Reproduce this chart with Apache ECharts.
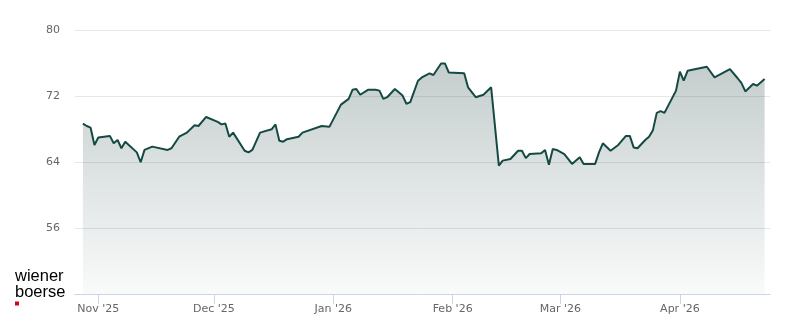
<!DOCTYPE html>
<html>
<head>
<meta charset="utf-8">
<script src="https://cdn.jsdelivr.net/npm/echarts@6/dist/echarts.min.js"></script>
<style>html,body{margin:0;padding:0;background:#fff}#c{width:800px;height:324px}</style>
</head>
<body>
<div id="c"></div>
<script>
const dates = [
'2025-10-28','2025-10-29','2025-10-30','2025-10-31','2025-11-01','2025-11-04','2025-11-05','2025-11-06','2025-11-07','2025-11-08',
'2025-11-11','2025-11-12','2025-11-13','2025-11-15','2025-11-19','2025-11-20','2025-11-22','2025-11-24','2025-11-26','2025-11-27',
'2025-11-29','2025-12-02','2025-12-03','2025-12-04','2025-12-05','2025-12-06','2025-12-09','2025-12-10','2025-12-11','2025-12-13',
'2025-12-16','2025-12-17','2025-12-18','2025-12-19','2025-12-20','2025-12-23','2025-12-24','2025-12-29','2025-12-31','2026-01-03',
'2026-01-05','2026-01-06','2026-01-07','2026-01-08','2026-01-10','2026-01-12','2026-01-13','2026-01-14','2026-01-15','2026-01-17',
'2026-01-19','2026-01-20','2026-01-21','2026-01-23','2026-01-24','2026-01-26','2026-01-27','2026-01-29','2026-01-30','2026-01-31',
'2026-02-04','2026-02-05','2026-02-07','2026-02-09','2026-02-11','2026-02-13','2026-02-14','2026-02-16','2026-02-18','2026-02-19',
'2026-02-20','2026-02-21','2026-02-24','2026-02-25','2026-02-26','2026-02-27','2026-02-28','2026-03-02','2026-03-04','2026-03-06',
'2026-03-07','2026-03-10','2026-03-11','2026-03-12','2026-03-14','2026-03-16','2026-03-18','2026-03-19','2026-03-20','2026-03-21',
'2026-03-23','2026-03-24','2026-03-25','2026-03-26','2026-03-27','2026-03-28','2026-03-31','2026-04-01','2026-04-02','2026-04-03',
'2026-04-08','2026-04-10','2026-04-14','2026-04-16','2026-04-17','2026-04-18','2026-04-20','2026-04-21','2026-04-23'
];
const prices = [
68.7,68.4,68.2,66.1,67.0,67.2,66.3,66.7,65.7,66.5,
65.2,64.0,65.5,65.9,65.5,65.7,67.1,67.6,68.5,68.4,
69.5,68.9,68.6,68.7,67.1,67.6,65.4,65.2,65.5,67.6,
68.0,68.6,66.6,66.5,66.8,67.1,67.6,68.4,68.3,71.0,
71.7,72.8,72.9,72.2,72.8,72.8,72.7,71.7,71.9,72.9,
72.1,71.1,71.3,73.9,74.3,74.8,74.6,76.0,76.0,74.9,
74.8,73.1,71.9,72.2,73.1,63.6,64.2,64.4,65.4,65.4,
64.5,65.0,65.1,65.5,63.7,65.6,65.5,65.0,63.8,64.6,
63.8,63.8,65.2,66.3,65.4,66.1,67.2,67.2,65.8,65.7,
66.7,67.1,67.9,70.0,70.2,70.0,72.7,75.0,73.9,75.1,
75.6,74.3,75.3,74.2,73.6,72.6,73.5,73.3,74.1
];
const monthTicks = ['2025-11-01','2025-12-01','2026-01-01','2026-02-01','2026-03-01','2026-04-01'];
const monthNames = ['Jan','Feb','Mar','Apr','May','Jun','Jul','Aug','Sep','Oct','Nov','Dec'];
const yTicks = [48,56,64,72,80];

function toTs(s){ const p = s.split('-').map(Number); return Date.UTC(p[0], p[1]-1, p[2]); }
const DAY = 86400000;
const base = toTs('2025-11-01');
const tickTs = monthTicks.map(toTs);
const seriesData = dates.map((d,i)=>[toTs(d), prices[i]]);

const chart = echarts.init(document.getElementById('c'), null, {renderer:'canvas'});
chart.setOption({
  animation:false,
  backgroundColor:'#ffffff',
  grid:{left:75, right:30, top:30.5, bottom:30},
  xAxis:{
    type:'value',
    min: base - 6.05*DAY,
    max: base + 174.4*DAY,
    axisLine:{show:true, lineStyle:{color:'#ccd6eb', width:1}},
    axisTick:{show:true, length:10, inside:false, customValues: tickTs, lineStyle:{color:'#ccd6eb'}},
    axisLabel:{
      customValues: tickTs,
      color:'#666666', fontSize:11, fontFamily:'DejaVu Sans', margin:10,
      formatter:function(v){ const d=new Date(v); return monthNames[d.getUTCMonth()] + " '" + String(d.getUTCFullYear()).slice(2); }
    },
    splitLine:{show:false}
  },
  yAxis:{
    type:'value', min:yTicks[0], max:yTicks[yTicks.length-1], interval:8,
    axisLine:{show:false}, axisTick:{show:false},
    axisLabel:{color:'#666666', fontSize:11, fontFamily:'DejaVu Sans', margin:15,
      formatter:function(v){ return v===yTicks[0] ? '' : String(v); }},
    splitLine:{show:true, lineStyle:{color:'#e6e6e6', width:1}}
  },
  series:[{
    type:'line',
    data: seriesData,
    showSymbol:false,
    smooth:false,
    lineStyle:{color:'#154a44', width:2},
    itemStyle:{color:'#154a44'},
    areaStyle:{
      color:{type:'linear', x:0, y:0, x2:0, y2:1, colorStops:[
        {offset:0, color:'rgba(45,78,76,0.40)'},
        {offset:1, color:'rgba(45,78,76,0.04)'}
      ]}
    }
  }],
  graphic:[
    {type:'text', left:15, top:268, style:{text:'wiener', font:'16.5px "Liberation Sans"', fill:'#000000'}},
    {type:'text', left:15, top:284, style:{text:'boerse', font:'16.5px "Liberation Sans"', fill:'#000000'}},
    {type:'rect', shape:{x:15, y:301.5, width:4, height:4}, style:{fill:'#d7001e'}}
  ]
});
</script>
</body>
</html>
